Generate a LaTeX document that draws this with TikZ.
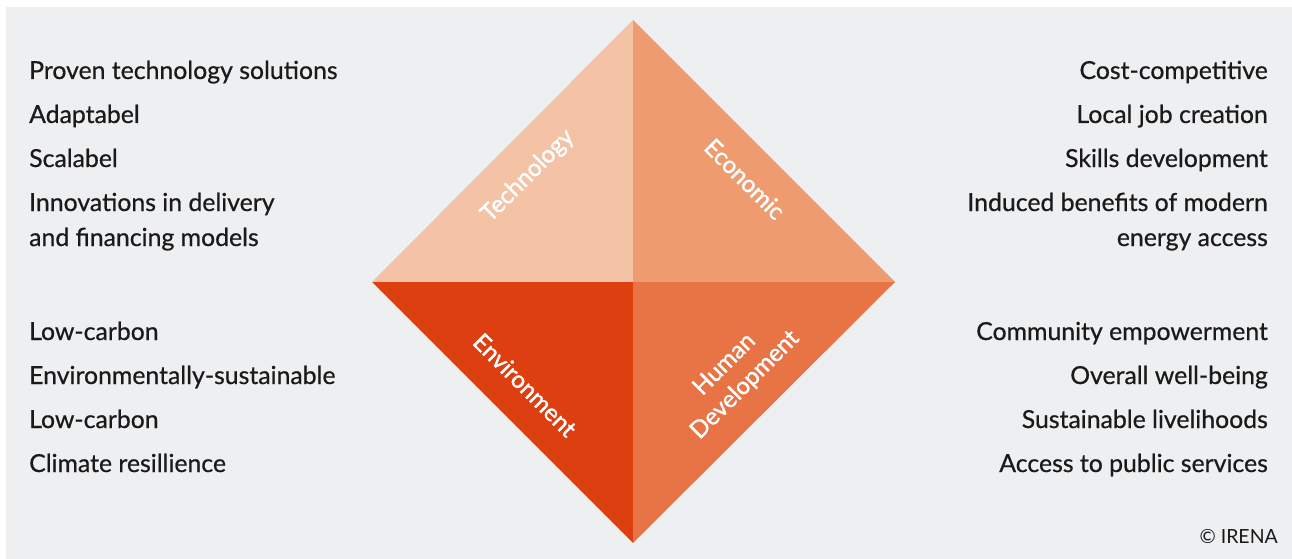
\documentclass[tikz,border=0pt]{standalone}
\usepackage{fontspec}
\setmainfont{Lato}[FakeBold=0.6]
\newfontfamily\lblfont{Lato}[FakeBold=1.2]
\newfontfamily\plainfont{Lato}
\definecolor{bg}{HTML}{EEEFF1}
\definecolor{ctech}{HTML}{F4C3A6}
\definecolor{cecon}{HTML}{EE9B70}
\definecolor{cenv}{HTML}{DD3F10}
\definecolor{chum}{HTML}{E87445}
\definecolor{txt}{HTML}{1A1A1A}
\begin{document}
\begin{tikzpicture}[x=1pt,y=-1pt,
  item/.style={inner sep=0pt,text=txt,font=\fontsize{24.8}{24.8}\selectfont},
  litem/.style={item,anchor=base west},
  ritem/.style={item,anchor=base east},
  dlabel/.style={inner sep=0pt,text=white,font=\lblfont\fontsize{24}{29}\selectfont,align=center}]
\useasboundingbox (0,0) rectangle (1292,559);
\fill[white] (0,0) rectangle (1292,559);
\fill[bg] (6,7) rectangle (1292,559);
% diamond
\coordinate (T) at (633,20);
\coordinate (B) at (633,543);
\coordinate (L) at (372,282);
\coordinate (R) at (895,282);
\coordinate (C) at (633,282);
\fill[ctech] (T) -- (C) -- (L) -- cycle;
\fill[cecon] (T) -- (R) -- (C) -- cycle;
\fill[cenv] (L) -- (C) -- (B) -- cycle;
\fill[chum] (C) -- (R) -- (B) -- cycle;
\node[dlabel,rotate=45] (tech) at (528,176) {Technology};
\node[dlabel,rotate=-45] (econ) at (745,179) {Economic};
\node[dlabel,rotate=-45] (env) at (525,385) {Environment};
\node[dlabel,rotate=45] (hum) at (735,375) {Human\\Development};
% left texts
\node[litem] (l1) at (29,79) {Proven technology solutions};
\node[litem] (l2) at (29,123) {Adaptabel};
\node[litem] (l3) at (29,167) {Scalabel};
\node[litem] (l4) at (29,211) {Innovations in delivery};
\node[litem] (l5) at (29,246) {and financing models};
\node[litem] (l6) at (29,340) {Low-carbon};
\node[litem] (l7) at (29,384) {Environmentally-sustainable};
\node[litem] (l8) at (29,428) {Low-carbon};
\node[litem] (l9) at (29,472) {Climate resillience};
% right texts
\node[ritem] (r1) at (1268,79) {Cost-competitive};
\node[ritem] (r2) at (1268,123) {Local job creation};
\node[ritem] (r3) at (1268,167) {Skills development};
\node[ritem] (r4) at (1268,211) {Induced benefits of modern};
\node[ritem] (r5) at (1268,246) {energy access};
\node[ritem] (r6) at (1268,340) {Community empowerment};
\node[ritem] (r7) at (1268,384) {Overall well-being};
\node[ritem] (r8) at (1268,428) {Sustainable livelihoods};
\node[ritem] (r9) at (1268,472) {Access to public services};
\node[inner sep=0pt,anchor=base east,text=txt,font=\plainfont\fontsize{19.5}{19.5}\selectfont] (copy) at (1278,543) {© IRENA};
\end{tikzpicture}
\end{document}
